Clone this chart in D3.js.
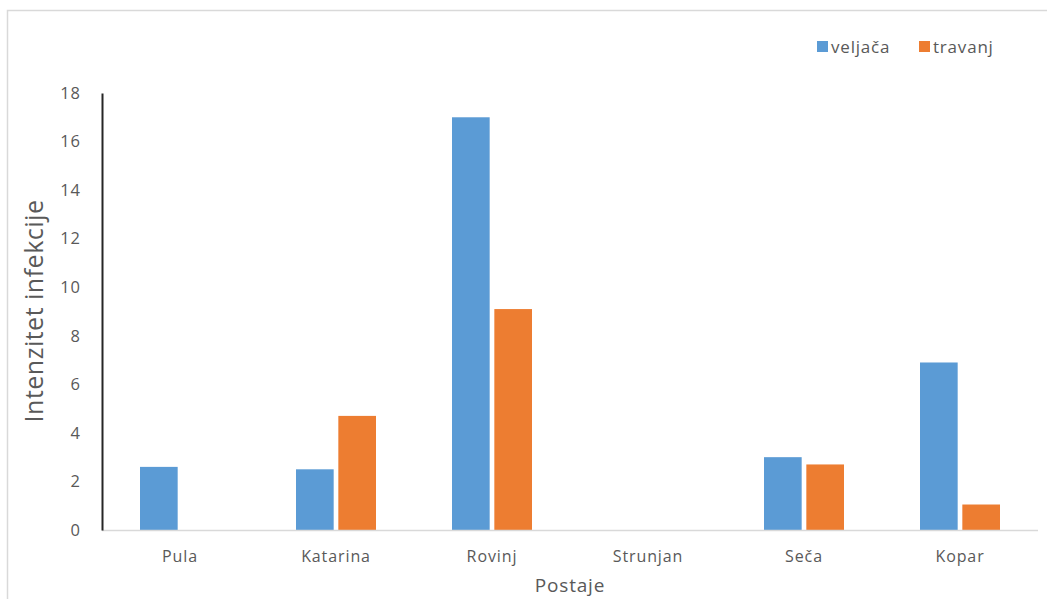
<!DOCTYPE html>
<html><head><meta charset="utf-8">
<script src="https://cdn.jsdelivr.net/npm/d3@7"></script>
<style>body{margin:0;background:#fff}svg{display:block}</style>
</head><body>
<svg id="c" width="1047" height="599"></svg>
<script>
const categories = ["Pula","Katarina","Rovinj","Strunjan","Seča","Kopar"];
const seriesNames = ["veljača","travanj"];
const veljaca = [2.6, 2.5, 17.0, null, 3.0, 6.9];
const travanj = [null, 4.7, 9.1, null, 2.7, 1.05];
const yTicks = [0,2,4,6,8,10,12,14,16,18];
const colors = ["#5b9bd5","#ed7d31"];
const font = "'Open Sans', Lato, sans-serif";

(function(){
const svg = d3.select("#c");
svg.append("rect").attr("x",7.5).attr("y",10.5).attr("width",1060).attr("height",600)
  .attr("fill","#fff").attr("stroke","#d9d9d9").attr("stroke-width",1.5);

const mLeft = 102, mRight = 1038, mTop = 93, mBottom = 530;
const x = d3.scaleBand().domain(categories).range([mLeft,mRight]).paddingInner(0).paddingOuter(0);
const y = d3.scaleLinear().domain([0,18]).range([mBottom,mTop]);
const x1 = d3.scaleBand().domain(seriesNames).range([0,80]).paddingInner(0.11);
const offset = (x.bandwidth()-80)/2;

const data = [veljaca, travanj];
seriesNames.forEach((s,i)=>{
  svg.append("g").selectAll("rect").data(categories.map((c,j)=>({c,v:data[i][j]})).filter(d=>d.v!=null))
    .join("rect")
    .attr("x",d=>x(d.c)+offset+x1(s))
    .attr("width",x1.bandwidth())
    .attr("y",d=>y(d.v))
    .attr("height",d=>y(0)-y(d.v))
    .attr("fill",colors[i]);
});

svg.append("line").attr("x1",mLeft).attr("x2",mRight).attr("y1",mBottom+0.5).attr("y2",mBottom+0.5)
  .attr("stroke","#d9d9d9").attr("stroke-width",1.5);
const yAxis = d3.axisLeft(y).tickValues(yTicks).tickSize(0).tickPadding(21);
const gy = svg.append("g").attr("transform",`translate(${mLeft},0)`).call(yAxis);
gy.select(".domain").attr("stroke","#262626").attr("stroke-width",2);
gy.selectAll("text").attr("fill","#595959").style("font-family",font).style("font-size","16.5px")
  .style("letter-spacing","1px");

const xAxis = d3.axisBottom(x).tickSize(0).tickPadding(21);
const gx = svg.append("g").attr("transform",`translate(0,${mBottom})`).call(xAxis);
gx.select(".domain").remove();
gx.selectAll("text").attr("fill","#595959").style("font-family",font).style("font-size","16px")
  .style("letter-spacing","0.9px");

svg.append("text").attr("transform",`translate(43,311) rotate(-90)`).attr("text-anchor","middle")
  .attr("fill","#595959").style("font-family",font).style("font-size","25px")
  .style("letter-spacing","0.5px").text("Intenzitet infekcije");
svg.append("text").attr("x",570).attr("y",592).attr("text-anchor","middle")
  .attr("fill","#595959").style("font-family",font).style("font-size","19px")
  .style("letter-spacing","0.8px").text("Postaje");

const legX = [817, 919];
seriesNames.forEach((s,i)=>{
  svg.append("rect").attr("x",legX[i]).attr("y",41).attr("width",11).attr("height",11).attr("fill",colors[i]);
  svg.append("text").attr("x",legX[i]+14).attr("y",53).attr("fill","#595959")
    .style("font-family",font).style("font-size","17px").style("letter-spacing","0.8px").text(s);
});
})();
</script>
</body></html>
